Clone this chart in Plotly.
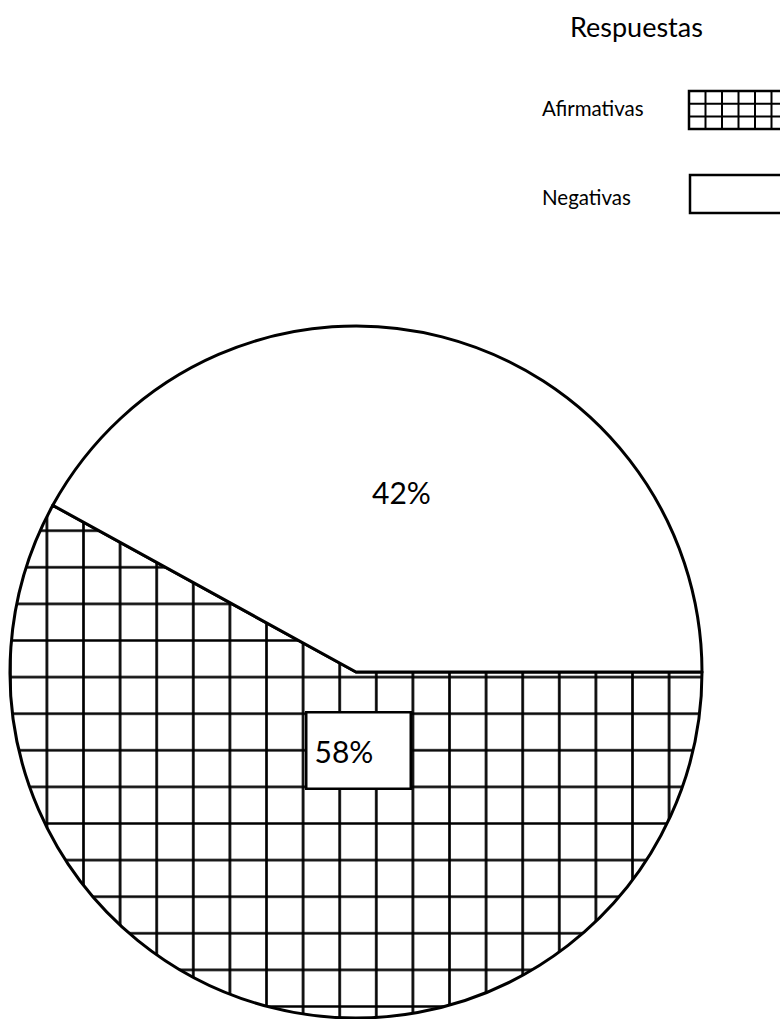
import plotly.graph_objects as go

W, H = 780, 1019

# Survey answers (percent)
labels = ["Afirmativas", "Negativas"]
values = [58, 42]
patterns = ["+", ""]

legend_title = "Respuestas"


def px(x):
    return x / W


def py(y):
    return (H - y) / H


FONT = "Lato"

fig = go.Figure()

fig.add_trace(go.Pie(
    labels=labels,
    values=values,
    sort=False,
    direction="clockwise",
    rotation=90,
    textinfo="none",
    hoverinfo="label+percent",
    showlegend=False,
    domain=dict(x=[px(10), px(702)], y=[py(1018), py(326)]),
    marker=dict(
        colors=["white", "white"],
        line=dict(color="black", width=3),
        pattern=dict(shape=patterns, size=36.6, solidity=0.14,
                     fgcolor="black", bgcolor="white", fillmode="replace"),
    ),
))

# Slice labels
fig.add_annotation(x=px(402), y=py(492), xref="paper", yref="paper",
                   xanchor="center", yanchor="middle",
                   text=f"{values[1]}%", showarrow=False,
                   font=dict(family=FONT, size=30, color="black"))
fig.add_annotation(x=px(358), y=py(750), xref="paper", yref="paper",
                   xanchor="center", yanchor="middle",
                   text=f"{values[0]}%", showarrow=False,
                   width=88, height=60, align="left", valign="middle",
                   bgcolor="white", bordercolor="black", borderwidth=2.5,
                   borderpad=7,
                   font=dict(family=FONT, size=30, color="black"))

# Hand-made legend
fig.add_annotation(x=px(636), y=py(26), xref="paper", yref="paper",
                   xanchor="center", yanchor="middle",
                   text=legend_title, showarrow=False,
                   font=dict(family=FONT, size=27, color="black"))
fig.add_annotation(x=px(540), y=py(108), xref="paper", yref="paper",
                   xanchor="left", yanchor="middle",
                   text=labels[0], showarrow=False,
                   font=dict(family=FONT, size=20.5, color="black"))
fig.add_annotation(x=px(540), y=py(197), xref="paper", yref="paper",
                   xanchor="left", yanchor="middle",
                   text=labels[1], showarrow=False,
                   font=dict(family=FONT, size=20.5, color="black"))

line_style = dict(color="black", width=2.5)
shapes = []
# swatch for Afirmativas: box with a small grid
x0, x1, y0, y1 = 689, 795, 91, 129
shapes.append(dict(type="rect", xref="paper", yref="paper",
                   x0=px(x0), x1=px(x1), y0=py(y1), y1=py(y0),
                   line=line_style, fillcolor="white"))
step_x, step_y = 16.5, 12.7
gx = x0 + step_x
while gx < x1:
    shapes.append(dict(type="line", xref="paper", yref="paper",
                       x0=px(gx), x1=px(gx), y0=py(y1), y1=py(y0),
                       line=dict(color="black", width=2)))
    gx += step_x
gy = y0 + step_y
while gy < y1 - 2:
    shapes.append(dict(type="line", xref="paper", yref="paper",
                       x0=px(x0), x1=px(x1), y0=py(gy), y1=py(gy),
                       line=dict(color="black", width=2)))
    gy += step_y
# swatch for Negativas: empty box
shapes.append(dict(type="rect", xref="paper", yref="paper",
                   x0=px(690), x1=px(795), y0=py(213), y1=py(175),
                   line=line_style, fillcolor="white"))

fig.update_layout(
    width=W, height=H,
    margin=dict(l=0, r=0, t=0, b=0),
    paper_bgcolor="white",
    plot_bgcolor="white",
    shapes=shapes,
)

# nudge the grid pattern sideways so its lines sit where the drawing has them
shift_pattern = """
var gd = document.getElementById('{plot_id}');
function shiftGrid() {
  gd.querySelectorAll('pattern').forEach(function (p) {
    p.setAttribute('patternTransform', 'translate(-8,0)');
  });
}
shiftGrid();
if (gd.on) { gd.on('plotly_afterplot', shiftGrid); }
"""

fig.write_html("out.html", post_script=shift_pattern)
